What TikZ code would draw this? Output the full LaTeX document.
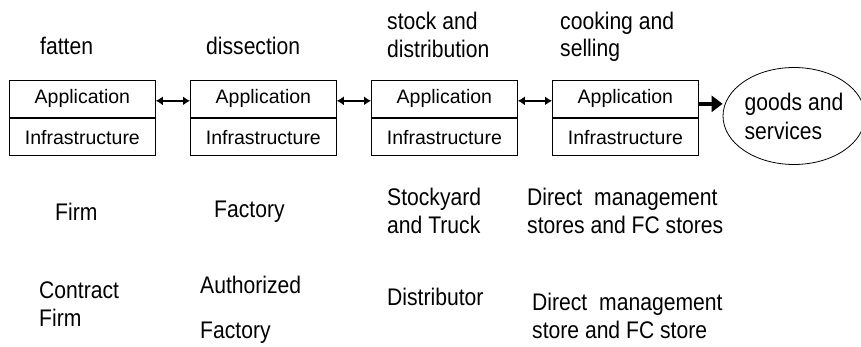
\documentclass[tikz,border=0pt]{standalone}
\usepackage{fontspec}
\setmainfont{Liberation Sans}
\newfontfamily\narrowfont[FakeStretch=0.88]{Liberation Sans}
\usetikzlibrary{arrows.meta,shapes.geometric}

\tikzset{
  layer/.style={draw, line width=0.8pt, minimum width=146pt, minimum height=37.5pt,
    inner sep=0pt, font=\fontsize{19.5}{22}\selectfont},
  lbl/.style={inner sep=0pt, align=left, font=\narrowfont\fontsize{24}{27.5}\selectfont},
  link/.style={line width=2.2pt, {Latex[length=7pt,width=9pt]}-{Latex[length=7pt,width=9pt]}},
  yields/.style={line width=4.5pt, -{Triangle[length=11pt,width=16pt]}}
}

\begin{document}
\begin{tikzpicture}[x=1pt,y=-1pt]
        \useasboundingbox (0,0) rectangle (861,347);

        % stages
        \node[layer, anchor=south west] at (9,118) (app1) {Application};
        \node[layer, anchor=north west] at (9,118) (inf1) {Infrastructure};
        \node[layer, anchor=south west] at (190,118) (app2) {Application};
        \node[layer, anchor=north west] at (190,118) (inf2) {Infrastructure};
        \node[layer, anchor=south west] at (371,118) (app3) {Application};
        \node[layer, anchor=north west] at (371,118) (inf3) {Infrastructure};
        \node[layer, anchor=south west] at (552,118) (app4) {Application};
        \node[layer, anchor=north west] at (552,118) (inf4) {Infrastructure};

        \node[ellipse, draw, line width=0.8pt, minimum width=142pt, minimum height=97pt,
          inner sep=0pt, font=\narrowfont\fontsize{24}{29}\selectfont, align=left]
          at (794,116) (goods) {goods and\\services};

        \draw[link] ([yshift=-2pt]app1.east) -- ([yshift=-2pt]app2.west);
        \draw[link] ([yshift=-2pt]app2.east) -- ([yshift=-2pt]app3.west);
        \draw[link] ([yshift=-2pt]app3.east) -- ([yshift=-2pt]app4.west);
        \coordinate (tip) at (goods.west |- app4.east);
        \draw[yields] ([yshift=-5pt]app4.east) -- ([yshift=-5pt]tip);

        % what each stage does
        \node[lbl, anchor=west] at (40,46) (fatten) {fatten};
        \node[lbl, anchor=west] at (206,46) (dissect) {dissection};
        \node[lbl, anchor=west] at (387,35) (stock) {stock and\\distribution};
        \node[lbl, anchor=west] at (560,37) (cook) {cooking and\\selling};

        % who does it
        \node[lbl, anchor=west] at (55,212) (firm) {Firm};
        \node[lbl, anchor=west] at (214,212) (fact) {Factory};
        \node[lbl, anchor=west] at (387,211) (yard) {Stockyard\\and Truck};
        \node[lbl, anchor=west] at (527,211) (direct) {Direct\hspace{0.25em} management\\stores and FC stores};

        \node[lbl, anchor=west] at (39,304) (cfirm) {Contract\\Firm};
        \node[lbl, anchor=west] at (200,310) (afact) {Authorized\\[17pt]Factory};
        \node[lbl, anchor=west] at (387,297) (distr) {Distributor};
        \node[lbl, anchor=west] at (532,316) (direct2) {Direct\hspace{0.25em} management\\store and FC store};
    \end{tikzpicture}
\end{document}
